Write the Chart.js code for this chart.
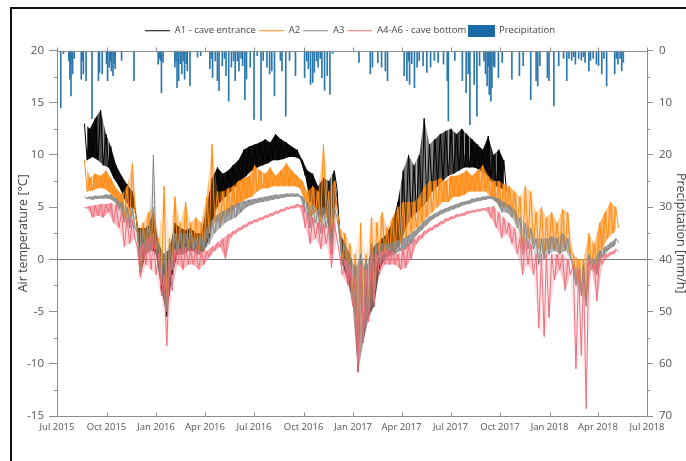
<!DOCTYPE html>
<html>
<head>
<meta charset="utf-8">
<script src="https://cdn.jsdelivr.net/npm/chart.js@4.4.0/dist/chart.umd.min.js"></script>
<style>
  html, body { margin: 0; padding: 0; background: #fff; overflow: hidden; width: 686px; height: 461px; }
  #wrap { position: relative; width: 686px; height: 461px; overflow: hidden; }
  #chart { position: absolute; left: 0; top: 0; }
  #frame { position: absolute; left: 10px; top: 7px; width: 720px; height: 480px;
           border-left: 2px solid #111; border-top: 2px solid #111; pointer-events: none; }
</style>
</head>
<body>
<div id="wrap">
  <canvas id="chart" width="700" height="461"></canvas>
  <div id="frame"></div>
</div>
<script>
/* ================= DATA ================= */
// axis quarters
const quarterDates = ["2015-07-01", "2015-10-01", "2016-01-01", "2016-04-01", "2016-07-01", "2016-10-01",
  "2017-01-01", "2017-04-01", "2017-07-01", "2017-10-01", "2018-01-01", "2018-04-01", "2018-07-01"];
const quarterLabels = ["Jul 2015", "Oct 2015", "Jan 2016", "Apr 2016", "Jul 2016", "Oct 2016",
  "Jan 2017", "Apr 2017", "Jul 2017", "Oct 2017", "Jan 2018", "Apr 2018", "Jul 2018"];

// sample days (days since 1 Jul 2015); each sample has a high and a low reading
const sampleDays = [51, 61, 71, 81, 91, 100, 110, 120, 130, 140,
  150, 160, 170, 179, 189, 199, 209, 219, 229, 239,
  248, 258, 268, 278, 288, 298, 308, 318, 327, 337,
  347, 357, 367, 377, 387, 396, 406, 416, 426, 436,
  446, 456, 465, 475, 485, 495, 505, 515, 525, 535,
  544, 554, 564, 574, 584, 594, 604, 613, 623, 633,
  643, 653, 663, 673, 682, 692, 702, 712, 722, 732,
  742, 752, 761, 771, 781, 791, 801, 811, 821, 830,
  840, 850, 860, 870, 880, 890, 900, 909, 919, 929,
  939, 949, 959, 969, 978, 988, 998, 1008, 1018, 1028,
  1038];

const a1High = [13.0, 12.5, 13.5, 14.3, 12.0, 10.8, 9.0, 8.0, 7.2, 6.5,
  3.0, 3.0, 3.2, 4.5, 1.5, 0.5, 1.0, 3.5, 3.0, 2.8,
  3.0, 2.5, 2.5, 5.0, 7.8, 8.8, 8.2, 8.5, 9.0, 9.5,
  10.5, 10.8, 11.0, 11.2, 11.5, 11.2, 12.0, 11.5, 11.2, 10.8,
  10.5, 9.5, 8.5, 8.2, 7.0, 7.8, 7.5, 8.5, 2.5, 1.5,
  0.5, -1.0, 0.5, -1.0, 1.0, 1.5, 2.0, 2.5, 3.5, 5.5,
  8.5, 10.0, 9.0, 10.0, 13.5, 11.0, 11.5, 12.0, 12.3, 12.5,
  12.0, 12.5, 12.0, 11.5, 11.0, 10.5, 11.8, 10.0, 10.5, 9.5,
  null, null, null, null, null, null, null, null, null, null,
  null, null, null, null, null, null, null, null, null, null,
  null];
const a1Low = [9.5, 9.8, 9.5, 9.0, 8.8, 7.8, 7.0, 5.8, 5.0, 4.8,
  -1.5, 0.5, 1.0, 0.5, -3.0, -5.5, -1.5, 0.5, 0.5, 0.8,
  0.8, 0.5, 0.8, 2.0, 4.5, 5.5, 6.0, 6.5, 7.0, 7.5,
  8.0, 8.5, 8.8, 9.0, 9.2, 9.5, 9.5, 9.6, 9.8, 9.8,
  9.6, 8.0, 5.5, 5.0, 4.0, 4.5, 1.0, 6.8, -0.5, -2.0,
  -4.0, -10.8, -8.0, -5.5, -4.5, -1.0, 0.0, 0.5, 0.8, 1.5,
  3.0, 4.0, 4.5, 5.0, 5.5, 6.5, 7.0, 7.5, 8.0, 8.2,
  8.5, 8.8, 8.8, 8.8, 8.5, 8.2, 7.5, 7.0, 6.8, 6.5,
  null, null, null, null, null, null, null, null, null, null,
  null, null, null, null, null, null, null, null, null, null,
  null];

const a2High = [9.5, 7.8, 8.2, 8.0, 8.5, 7.8, 6.8, 6.2, 7.0, 9.2,
  3.0, 3.5, 4.5, 5.0, 2.0, 7.0, 2.0, 6.0, 3.5, 5.5,
  3.5, 4.0, 3.5, 6.0, 11.0, 6.5, 6.5, 6.8, 7.0, 7.5,
  7.8, 8.0, 9.0, 8.5, 8.2, 8.8, 8.0, 8.5, 9.2, 8.5,
  8.0, 7.5, 6.5, 7.0, 6.5, 11.0, 6.5, 7.5, 3.0, 2.5,
  1.5, 0.5, 3.5, 0.5, 4.0, 3.5, 4.5, 3.0, 4.0, 5.0,
  5.5, 5.5, 5.5, 6.0, 7.0, 7.5, 7.5, 7.8, 7.5, 8.0,
  8.0, 8.2, 8.5, 8.0, 8.5, 9.0, 8.0, 7.5, 7.5, 7.2,
  7.0, 6.5, 6.0, 7.0, 6.5, 4.5, 5.0, 4.0, 4.5, 3.5,
  4.8, 4.5, 0.5, 0.0, 0.0, 2.5, 1.5, 3.5, 4.5, 5.5,
  5.0];
const a2Low = [6.5, 6.6, 6.8, 6.8, 6.5, 6.0, 5.2, 4.0, 3.5, 4.5,
  -1.5, 0.5, 1.0, 1.0, -2.5, -5.0, -1.0, 0.5, 0.5, 1.0,
  1.0, 0.5, 1.0, 2.5, 3.5, 3.5, 4.0, 4.5, 5.0, 5.5,
  5.8, 6.0, 6.5, 6.8, 6.8, 7.0, 7.0, 7.0, 7.0, 7.0,
  6.8, 5.5, 4.0, 4.5, 3.5, 4.0, 1.0, 5.0, 0.0, -1.5,
  -3.5, -10.0, -7.0, -5.0, -3.5, 0.0, 0.5, 0.8, 0.8, 1.5,
  2.0, 2.5, 3.0, 3.5, 4.0, 4.5, 5.0, 5.5, 5.5, 6.0,
  6.0, 6.2, 6.5, 6.5, 6.5, 6.5, 6.0, 5.5, 5.0, 5.0,
  4.5, 3.5, 1.0, 2.0, 1.5, 1.0, 0.5, 1.0, 1.0, 0.5,
  1.0, 0.5, -2.0, -3.0, -4.0, -0.5, -1.0, 1.0, 2.0, 2.5,
  3.0];

const a3High = [6.0, 6.0, 6.1, 6.1, 6.2, 6.2, 5.8, 5.5, 5.0, 5.0,
  2.5, 2.8, 3.0, 10.0, 1.5, 0.5, 1.5, 2.5, 2.5, 2.5,
  2.5, 2.0, 2.2, 3.0, 3.8, 4.3, 4.6, 4.9, 5.2, 5.4,
  5.6, 5.7, 5.8, 5.9, 6.0, 6.1, 6.2, 6.2, 6.3, 6.3,
  6.3, 6.0, 5.5, 5.2, 4.8, 5.0, 4.8, 5.0, 2.2, 1.5,
  0.5, -0.5, 0.5, 0.0, 1.5, 1.5, 1.5, 1.5, 1.6, 1.8,
  2.0, 2.3, 2.7, 3.2, 3.7, 4.1, 4.4, 4.7, 4.9, 5.1,
  5.3, 5.5, 5.6, 5.8, 5.9, 6.0, 6.1, 6.0, 5.8, 5.5,
  5.2, 4.8, 4.0, 3.5, 3.0, 2.0, 2.0, 2.0, 2.2, 2.0,
  2.5, 2.0, -0.5, -1.0, -0.5, 0.5, 0.0, 0.8, 1.2, 1.6,
  2.0];
const a3Low = [5.8, 5.7, 5.8, 5.8, 5.8, 5.6, 4.8, 3.5, 3.0, 3.0,
  -1.5, 0.5, 0.8, 0.5, -2.5, -5.0, -1.0, 0.5, 0.5, 0.8,
  0.8, 0.5, 0.8, 1.5, 2.5, 3.0, 3.5, 3.8, 4.0, 4.5,
  5.0, 5.2, 5.4, 5.5, 5.6, 5.7, 5.8, 5.9, 6.0, 6.0,
  6.0, 4.5, 3.0, 3.5, 2.5, 3.0, 0.5, 4.0, -0.5, -2.0,
  -4.0, -10.0, -7.5, -5.0, -4.0, -0.5, 0.0, 0.3, 0.5, 0.8,
  1.0, 1.5, 2.3, 2.8, 3.3, 3.8, 4.1, 4.4, 4.6, 4.8,
  5.0, 5.2, 5.3, 5.5, 5.6, 5.7, 5.8, 5.5, 4.5, 4.5,
  4.0, 3.0, 0.5, 1.0, 1.0, -0.5, 0.0, 0.5, 0.8, 0.5,
  0.8, 0.0, -2.5, -3.5, -4.5, -1.0, -1.5, 0.2, 0.8, 1.2,
  1.6];

const a46High = [5.0, 5.1, 5.2, 5.3, 5.3, 5.4, 5.2, 4.5, 4.0, 3.8,
  1.0, 1.5, 2.0, 2.5, 0.5, -1.5, 0.0, 1.0, 1.0, 1.2,
  1.0, 1.0, 0.8, 0.8, 1.2, 1.6, 2.0, 2.4, 2.7, 3.0,
  3.3, 3.6, 3.8, 4.0, 4.2, 4.4, 4.6, 4.8, 5.0, 5.1,
  5.3, 5.2, 4.5, 4.0, 3.5, 3.5, 3.0, 3.5, 0.5, 0.0,
  -0.5, -1.5, -0.5, -1.0, 0.5, 0.5, 0.8, 1.0, 0.8, 0.5,
  1.0, 1.4, 1.9, 2.3, 2.7, 3.0, 3.3, 3.6, 3.9, 4.1,
  4.3, 4.4, 4.6, 4.7, 4.8, 4.9, 5.0, 5.1, 4.5, 4.0,
  3.5, 3.0, 2.0, 2.0, 1.5, 0.5, 0.5, 0.5, 0.5, 0.5,
  0.5, 0.0, -0.5, -1.0, -1.0, 0.0, -0.5, 0.2, 0.5, 0.7,
  1.0];
const a46Low = [4.9, 4.0, 4.2, 4.0, 4.5, 3.5, 3.0, 1.2, 1.5, 2.0,
  -1.8, -0.5, -1.0, -1.5, -3.5, -8.3, -3.0, -0.5, -1.0, -0.5,
  -0.5, -1.0, -0.5, 0.2, 0.8, 1.2, 0.0, 2.1, 2.5, 2.8,
  3.1, 3.4, 3.6, 3.8, 4.0, 4.2, 4.4, 4.6, 4.8, 4.9,
  5.0, 3.0, 1.5, 2.0, 1.0, 1.5, -0.8, 2.0, -1.5, -2.5,
  -4.5, -10.8, -8.0, -6.0, -4.5, -1.5, -0.5, -0.5, -0.5, -1.0,
  -0.8, 0.0, 1.5, 2.0, 2.5, 2.8, 3.1, 3.4, 3.7, 3.9,
  4.1, 4.2, 4.4, 4.5, 4.6, 4.7, 4.0, 3.0, 2.0, 2.5,
  1.5, 0.5, -1.5, -0.5, -1.5, -6.6, -7.4, -5.6, -2.0, -1.0,
  -3.0, -1.5, -10.5, -9.2, -14.3, -1.0, -4.0, -0.5, 0.2, 0.5,
  0.7];

// precipitation events (days since 1 Jul 2015) and amounts
const precipDays = [7, 12, 22, 24, 26, 28, 29, 32, 45, 47, 49, 54, 65, 77, 79, 84, 92, 94, 97, 99,
  101, 104, 106, 108, 120, 143, 188, 190, 192, 194, 197, 219, 221, 223, 226, 229, 232, 235, 237, 240,
  242, 247, 261, 267, 284, 287, 289, 294, 298, 301, 307, 311, 314, 319, 324, 328, 331, 335, 338, 342,
  345, 349, 352, 359, 366, 372, 379, 383, 390, 395, 399, 404, 415, 418, 425, 432, 443, 460, 464, 467,
  471, 475, 478, 482, 485, 489, 492, 497, 502, 507, 512, 561, 582, 586, 596, 603, 610, 614, 645, 650,
  653, 655, 659, 664, 669, 673, 680, 687, 694, 701, 708, 718, 725, 727, 739, 753, 760, 764, 767, 775,
  780, 785, 793, 796, 799, 801, 803, 806, 808, 811, 813, 820, 827, 845, 859, 866, 880, 890, 893, 897,
  911, 914, 923, 932, 941, 947, 951, 956, 960, 963, 969, 974, 978, 981, 988, 991, 996, 1002, 1006, 1012,
  1016, 1021, 1036, 1039, 1042, 1046, 1049, 1052];
const precipMm = [11.0, 0.6, 2.0, 5.5, 8.7, 2.5, 4.5, 1.5, 5.5, 2.0, 4.5, 5.8, 13.0, 5.8, 4.2, 4.5, 2.5, 5.8, 3.2, 2.0,
  3.9, 4.8, 2.5, 3.5, 1.9, 5.8, 2.6, 1.5, 1.9, 8.1, 2.3, 3.2, 2.0, 7.1, 5.8, 2.5, 4.5, 2.0, 5.5, 2.5,
  3.9, 6.8, 1.3, 1.0, 3.5, 1.5, 5.2, 2.0, 5.8, 7.7, 2.9, 1.5, 4.8, 9.7, 3.2, 2.0, 5.8, 2.0, 3.9, 1.5,
  2.9, 9.4, 5.5, 3.2, 13.2, 1.0, 13.4, 1.9, 3.2, 4.5, 3.9, 8.7, 1.9, 3.9, 12.6, 1.9, 4.8, 5.2, 2.0, 3.5,
  6.5, 6.1, 4.2, 2.0, 3.2, 1.5, 5.2, 7.6, 4.8, 8.4, 0.6, 2.3, 4.5, 3.2, 2.3, 3.2, 3.9, 5.8, 4.8, 5.8,
  2.0, 6.5, 2.5, 7.1, 3.2, 1.9, 2.9, 4.2, 3.2, 1.9, 2.3, 2.6, 5.8, 13.5, 1.9, 5.8, 8.1, 4.5, 14.2, 6.5,
  12.6, 2.9, 2.0, 4.5, 6.8, 3.0, 8.4, 9.7, 7.1, 3.0, 3.2, 5.2, 2.3, 5.5, 4.8, 2.9, 9.4, 5.8, 6.8, 2.9,
  5.2, 5.8, 10.6, 2.9, 1.5, 5.8, 1.5, 1.9, 1.2, 2.6, 1.5, 1.9, 1.2, 2.3, 3.9, 1.9, 1.5, 2.6, 2.9, 4.5,
  1.5, 6.8, 4.5, 1.5, 2.6, 1.5, 3.9, 2.3];

/* ================= HELPERS ================= */
const DAY0 = Date.UTC(2015, 6, 1);
const quarterDays = quarterDates.map(s => {
  const [y, m, d] = s.split("-").map(Number);
  return Math.round((Date.UTC(y, m - 1, d) - DAY0) / 864e5);
});

const LOW_SHIFT = 5; // low reading sits half a step after the high one

// high reading, then low reading -> jagged trace
function zigzag(high, low) {
  const pts = [];
  sampleDays.forEach((d, i) => {
    pts.push({ x: d, y: high[i] });
    pts.push({ x: d + LOW_SHIFT, y: low[i] });
  });
  return pts;
}

// shaded band between high and low readings; the wider the spread, the lighter the shade
function band(high, low, rgb, k, maxA, order) {
  const common = { label: "", pointRadius: 0, borderWidth: 0, tension: 0, yAxisID: "y", order };
  const spread = i => Math.max(0.1, high[i] - low[i]);
  return [
    { ...common, data: sampleDays.map((d, i) => ({ x: d, y: high[i] })), fill: false },
    { ...common, data: sampleDays.map((d, i) => ({ x: d + LOW_SHIFT, y: low[i] })),
      fill: "-1", backgroundColor: `rgba(${rgb},${maxA})`,
      segment: {
        backgroundColor: c => {
          const s = (spread(c.p0DataIndex) + spread(c.p1DataIndex)) / 2;
          return `rgba(${rgb},${Math.min(maxA, k / s).toFixed(3)})`;
        }
      } }
  ];
}

const FONT = "'Open Sans', sans-serif";
const AXIS = "#8c8c8c";
const PRECIP = "#2a77ad";

const precipSwatch = document.createElement("canvas");
precipSwatch.width = 27;
precipSwatch.height = 12;
(function () {
  const c = precipSwatch.getContext("2d");
  c.fillStyle = "#1a6aa6";
  c.fillRect(0, 0, 27, 12);
})();

// extra axis decoration: top frame line, upward quarter ticks, minor y ticks
const axisMarks = {
  id: "axisMarks",
  beforeInit(chart) {
    const fit = chart.legend.fit;
    chart.legend.fit = function () {
      fit.call(this);
      this.height += 5;
    };
  },
  afterDraw(chart) {
    const { ctx, chartArea: a, scales } = chart;
    ctx.save();
    ctx.strokeStyle = AXIS;
    ctx.lineWidth = 1;
    ctx.beginPath();
    const top = Math.round(a.top) + 0.5;
    const bottom = Math.round(a.bottom) + 0.5;
    ctx.moveTo(a.left, top);
    ctx.lineTo(a.right, top);
    quarterDays.forEach(d => {
      const x = Math.round(scales.x.getPixelForValue(d)) + 0.5;
      ctx.moveTo(x, bottom);
      ctx.lineTo(x, bottom - 4);
      ctx.moveTo(x, top);
      ctx.lineTo(x, top - 4);
    });
    for (let v = -12.5; v < 20; v += 5) {
      const y = Math.round(scales.y.getPixelForValue(v)) + 0.5;
      ctx.moveTo(a.left, y);
      ctx.lineTo(a.left - 3, y);
    }
    for (let v = 5; v < 70; v += 10) {
      const y = Math.round(scales.y1.getPixelForValue(v)) + 0.5;
      ctx.moveTo(a.right, y);
      ctx.lineTo(a.right + 3, y);
    }
    ctx.stroke();
    ctx.restore();
  }
};

/* ================= CHART ================= */
const lineBase = { pointRadius: 0, pointHoverRadius: 0, pointStyle: "line", fill: false, tension: 0, yAxisID: "y" };

new Chart(document.getElementById("chart"), {
  type: "line",
  data: {
    datasets: [
      { ...lineBase, label: "A1 - cave entrance", data: zigzag(a1High, a1Low),
        borderColor: "#000000", backgroundColor: "#000000", borderWidth: 1, order: 4 },
      { ...lineBase, label: "A2", data: zigzag(a2High, a2Low),
        borderColor: "#ff8a12", backgroundColor: "#ff8a12", borderWidth: 1, order: 3 },
      { ...lineBase, label: "A3", data: zigzag(a3High, a3Low),
        borderColor: "#878787", backgroundColor: "#878787", borderWidth: 1, order: 2 },
      { ...lineBase, label: "A4-A6 - cave bottom", data: zigzag(a46High, a46Low),
        borderColor: "#ef6c79", backgroundColor: "#ef6c79", borderWidth: 1, order: 1 },
      { type: "bar", label: "Precipitation", yAxisID: "y1", order: 6, pointStyle: "rect",
        data: precipDays.map((d, i) => ({ x: d, y: precipMm[i] })),
        backgroundColor: PRECIP, borderWidth: 0, barThickness: 1 },
      ...band(a1High, a1Low, "0,0,0", 3.2, 0.95, 4.5),
      ...band(a2High, a2Low, "255,138,18", 1.7, 0.85, 3.5),
      ...band(a3High, a3Low, "135,135,135", 0.8, 0.8, 2.5),
      ...band(a46High, a46Low, "239,108,121", 0.9, 0.6, 1.5)
    ]
  },
  options: {
    responsive: false,
    animation: false,
    events: [],
    layout: { padding: { top: 23, left: 0, right: 0, bottom: 0 } },
    plugins: {
      legend: {
        position: "top",
        labels: {
          usePointStyle: true,
          pointStyleWidth: 25,
          padding: 3,
          color: "#444",
          font: { family: FONT, size: 9.5 },
          filter: item => item.text !== "",
          sort: (a, b) => a.datasetIndex - b.datasetIndex,
          generateLabels(chart) {
            const items = Chart.defaults.plugins.legend.labels.generateLabels(chart);
            items.forEach(it => { if (it.text === "Precipitation") it.pointStyle = precipSwatch; });
            return items;
          }
        }
      },
      tooltip: { enabled: false },
      filler: { propagate: false }
    },
    scales: {
      x: {
        type: "linear",
        min: 0,
        max: 1096,
        offset: false,
        afterBuildTicks: s => { s.ticks = quarterDays.map(v => ({ value: v })); },
        afterFit: s => { s.height = 45; },
        grid: { display: false, drawTicks: false },
        border: { display: true, color: AXIS },
        ticks: {
          autoSkip: false, maxRotation: 0, padding: 5.5,
          color: "#555", font: { family: FONT, size: 9.5 },
          callback: v => quarterLabels[quarterDays.indexOf(v)]
        }
      },
      y: {
        position: "left",
        min: -15,
        max: 20,
        afterFit: s => { s.width = 57; },
        ticks: { stepSize: 5, padding: 5, color: "#555", font: { family: FONT, size: 11.5 } },
        grid: {
          drawOnChartArea: true,
          tickLength: 8,
          tickColor: AXIS,
          color: c => (c.tick && c.tick.value === 0 ? "#7a7a7a" : "rgba(0,0,0,0)")
        },
        border: { color: AXIS },
        title: { display: true, text: "Air temperature [°C]", color: "#444",
                 font: { family: FONT, size: 12.5 }, padding: { top: 16, bottom: 0 } }
      },
      y1: {
        position: "right",
        min: 0,
        max: 70,
        reverse: true,
        afterFit: s => { s.width = 53; },
        ticks: { stepSize: 10, padding: 6, color: "#555", font: { family: FONT, size: 11.5 } },
        grid: { drawOnChartArea: false, tickLength: 6, color: AXIS },
        border: { color: AXIS },
        title: { display: true, text: "Precipitation [mm/h]", color: "#444",
                 font: { family: FONT, size: 12.5 }, padding: { top: 12, bottom: 0 } }
      }
    }
  },
  plugins: [axisMarks]
});
</script>
</body>
</html>
